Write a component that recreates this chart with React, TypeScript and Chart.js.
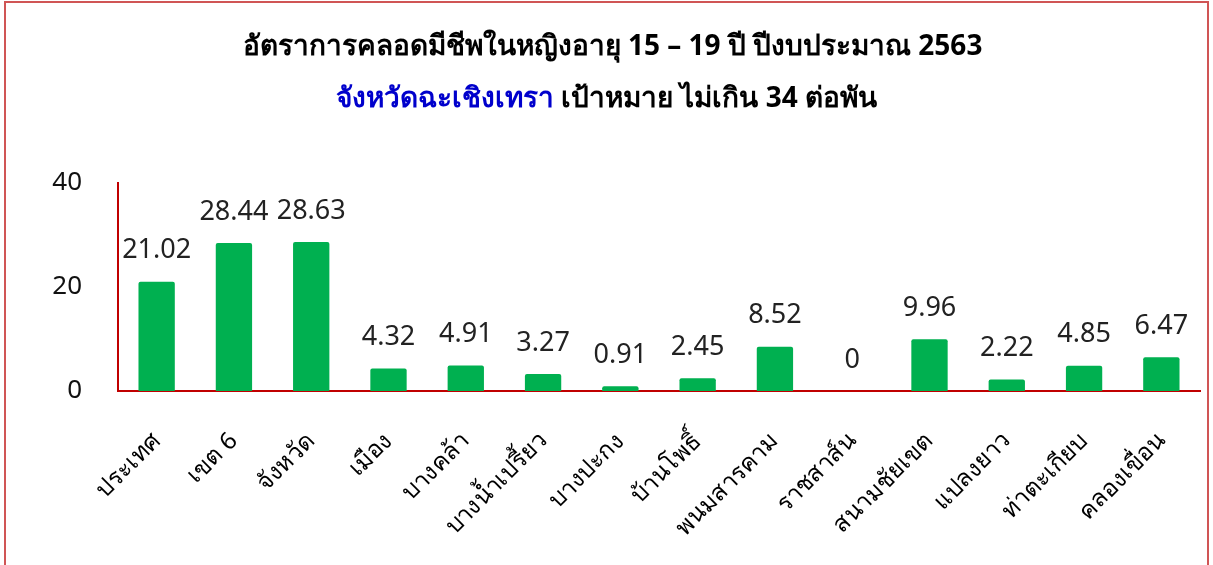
import React, { useEffect, useRef } from "react";
import { Chart, registerables } from "chart.js";

Chart.register(...registerables);

const categories = [
  "ประเทศ",
  "เขต 6",
  "จังหวัด",
  "เมือง",
  "บางคล้า",
  "บางน้ำเปรี้ยว",
  "บางปะกง",
  "บ้านโพธิ์",
  "พนมสารคาม",
  "ราชสาส์น",
  "สนามชัยเขต",
  "แปลงยาว",
  "ท่าตะเกียบ",
  "คลองเขื่อน",
];
const values = [21.02, 28.44, 28.63, 4.32, 4.91, 3.27, 0.91, 2.45, 8.52, 0, 9.96, 2.22, 4.85, 6.47];
const valueLabels = ["21.02", "28.44", "28.63", "4.32", "4.91", "3.27", "0.91", "2.45", "8.52", "0", "9.96", "2.22", "4.85", "6.47"];
const yTicks = [0, 20, 40];
const titleLine1 = "อัตราการคลอดมีชีพในหญิงอายุ 15 – 19 ปี ปีงบประมาณ 2563";
const titleLine2Blue = "จังหวัดฉะเชิงเทรา";
const titleLine2Black = " เป้าหมาย ไม่เกิน 34 ต่อพัน";

const FONT = "'Noto Sans', 'DejaVu Sans', sans-serif";
const W = 1213;
const H = 620;

const titlePlugin = {
  id: "twoToneTitle",
  afterDraw(chart: any) {
    const ctx = chart.ctx;
    ctx.save();
    ctx.textBaseline = "middle";
    ctx.font = `bold 28px ${FONT}`;
    ctx.fillStyle = "#000";
    ctx.textAlign = "center";
    ctx.fillText(titleLine1, W / 2 + 6, 47);
    const wBlue = ctx.measureText(titleLine2Blue).width;
    const wBlack = ctx.measureText(titleLine2Black).width;
    const startX = W / 2 - (wBlue + wBlack) / 2;
    ctx.textAlign = "left";
    ctx.fillStyle = "#0000CC";
    ctx.fillText(titleLine2Blue, startX, 99);
    ctx.fillStyle = "#000";
    ctx.fillText(titleLine2Black, startX + wBlue, 99);
    ctx.restore();
  },
};

const labelPlugin = {
  id: "valueLabels",
  afterDatasetsDraw(chart: any) {
    const ctx = chart.ctx;
    const meta = chart.getDatasetMeta(0);
    ctx.save();
    ctx.font = `27px ${FONT}`;
    ctx.fillStyle = "#222";
    ctx.textAlign = "center";
    ctx.textBaseline = "middle";
    meta.data.forEach((bar: any, i: number) => {
      ctx.fillText(valueLabels[i], bar.x, bar.y - 31);
    });
    ctx.restore();
  },
};

export default function App() {
  const ref = useRef<HTMLCanvasElement>(null);
  useEffect(() => {
    document.body.style.margin = "0";
    const chart = new Chart(ref.current!, {
      type: "bar",
      data: {
        labels: categories,
        datasets: [
          {
            data: values,
            backgroundColor: "#00B050",
            borderRadius: 2,
            categoryPercentage: 1,
            barPercentage: 0.47,
          },
        ],
      },
      options: {
        animation: false,
        responsive: false,
        layout: { padding: { top: 183, right: 13, left: 0, bottom: 0 } },
        plugins: { legend: { display: false }, tooltip: { enabled: false }, title: { display: false } },
        scales: {
          x: {
            grid: { display: false, drawTicks: false },
            border: { color: "#C00000", width: 2 },
            ticks: {
              minRotation: 45,
              maxRotation: 45,
              padding: 36,
              color: "#000",
              font: { family: FONT, size: 24 },
              autoSkip: false,
            },
            afterFit(scale: any) {
              scale.height = H - 391;
              scale.paddingRight = 0;
              scale.paddingLeft = 0;
            },
          },
          y: {
            min: 0,
            max: 40,
            grid: { display: false, drawTicks: false },
            border: { color: "#C00000", width: 2 },
            afterBuildTicks(scale: any) {
              scale.ticks = yTicks.map((v) => ({ value: v }));
            },
            ticks: {
              padding: 36,
              color: "#111",
              font: { family: FONT, size: 26 },
            },
            afterFit(scale: any) {
              scale.width = 118;
            },
          },
        },
      },
      plugins: [titlePlugin, labelPlugin],
    });
    return () => chart.destroy();
  }, []);
  return (
    <div style={{ position: "relative", width: W, height: 565, overflow: "hidden" }}>
      <canvas ref={ref} width={W} height={H} style={{ position: "absolute", left: 0, top: 0 }} />
      <div
        style={{
          position: "absolute",
          left: 4,
          top: 1,
          width: 1201,
          height: 600,
          border: "2px solid #D05555",
          pointerEvents: "none",
        }}
      />
    </div>
  );
}
